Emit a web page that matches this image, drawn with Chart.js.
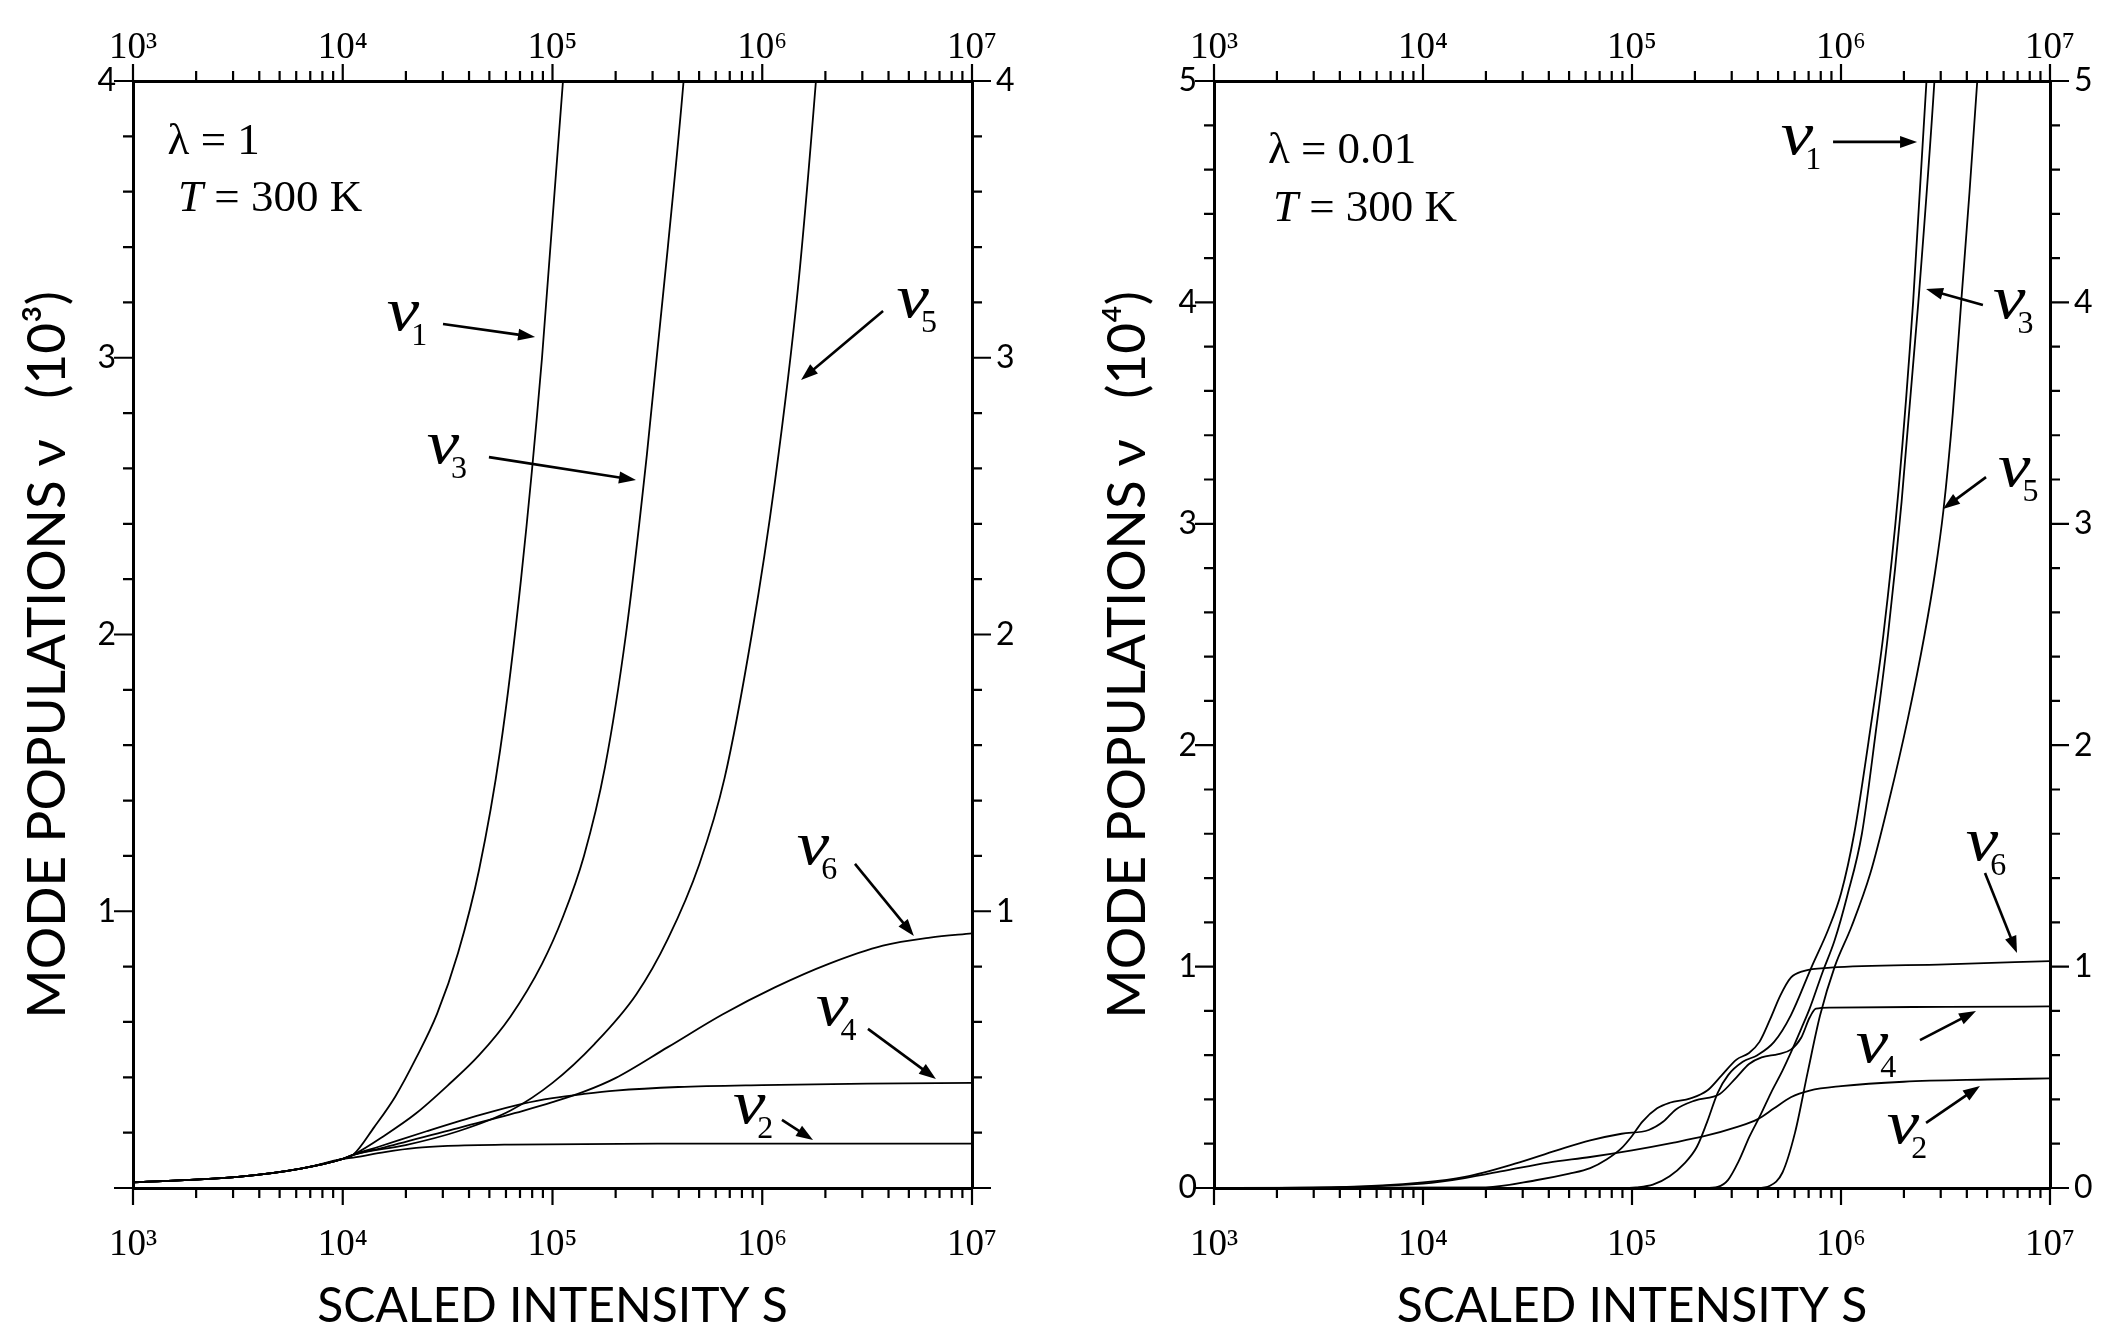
<!DOCTYPE html>
<html>
<head>
<meta charset="utf-8">
<script src="https://cdn.jsdelivr.net/npm/chart.js@4.4.1/dist/chart.umd.min.js"></script>
<style>
  html, body { margin: 0; padding: 0; background: #fff; }
  #wrap { position: relative; width: 2122px; height: 1328px; }
  canvas { position: absolute; top: 0; }
  #chartLeft { left: 0; }
  #chartRight { left: 1080px; }
</style>
</head>
<body>
<div id="wrap">
  <canvas id="chartLeft" width="1080" height="1328"></canvas>
  <canvas id="chartRight" width="1042" height="1328"></canvas>
</div>
<script>
// --- x-as (gemensam): S från 10^3 till 10^7 ---
const xDecades = [1e3, 1e4, 1e5, 1e6, 1e7];
const xDecadeLabels = ['10³', '10⁴', '10⁵', '10⁶', '10⁷'];
const xMinorSteps = [2, 3, 4, 5, 6, 7, 8, 9];

// --- vänster panel: lambda = 1, nu i enheter om 10^3 (x anges som log10 S) ---
const lamOneYMax = 4;
const lamOneYLabels = ['', '1', '2', '3', '4'];

const lamOneLogS1 = [3.0, 3.5, 3.8, 4.0, 4.05, 4.15, 4.25, 4.35, 4.45, 4.55, 4.65, 4.75, 4.85, 4.95, 5.05, 5.09];
const lamOneNu1   = [0.02, 0.04, 0.07, 0.105, 0.12, 0.22, 0.33, 0.47, 0.63, 0.85, 1.15, 1.58, 2.2, 3.0, 4.0, 4.5];

const lamOneLogS3 = [3.0, 3.5, 3.8, 4.0, 4.05, 4.2, 4.35, 4.5, 4.65, 4.8, 4.95, 5.05, 5.15, 5.25, 5.35, 5.45, 5.55, 5.625, 5.67];
const lamOneNu3   = [0.02, 0.04, 0.07, 0.105, 0.12, 0.19, 0.27, 0.37, 0.48, 0.62, 0.81, 0.98, 1.2, 1.52, 2.0, 2.65, 3.4, 4.0, 4.45];

const lamOneLogS5 = [3.0, 3.5, 3.8, 4.0, 4.05, 4.3, 4.55, 4.8, 5.0, 5.2, 5.4, 5.55, 5.7, 5.82, 5.95, 6.06, 6.17, 6.256, 6.3];
const lamOneNu5   = [0.02, 0.04, 0.07, 0.105, 0.12, 0.155, 0.205, 0.28, 0.38, 0.52, 0.7, 0.9, 1.17, 1.48, 2.0, 2.55, 3.25, 4.0, 4.45];

const lamOneLogS6 = [3.0, 3.5, 3.8, 4.0, 4.05, 4.2, 4.53, 4.86, 5.0, 5.15, 5.3, 5.55, 5.81, 6.06, 6.32, 6.575, 6.8, 7.0];
const lamOneNu6   = [0.02, 0.04, 0.07, 0.105, 0.12, 0.147, 0.213, 0.279, 0.31, 0.348, 0.397, 0.509, 0.627, 0.725, 0.811, 0.876, 0.905, 0.92];

const lamOneLogS4 = [3.0, 3.5, 3.8, 4.0, 4.05, 4.175, 4.4, 4.66, 4.86, 5.0, 5.15, 5.3, 5.6, 6.0, 6.5, 7.0];
const lamOneNu4   = [0.02, 0.04, 0.07, 0.105, 0.12, 0.15, 0.205, 0.265, 0.305, 0.325, 0.34, 0.352, 0.365, 0.372, 0.377, 0.38];

const lamOneLogS2 = [3.0, 3.5, 3.8, 4.0, 4.05, 4.2, 4.35, 4.5, 4.8, 5.5, 7.0];
const lamOneNu2   = [0.02, 0.04, 0.07, 0.105, 0.11, 0.13, 0.145, 0.152, 0.157, 0.16, 0.16];

// --- höger panel: lambda = 0.01, nu i enheter om 10^4 ---
const lamSmallYMax = 5;
const lamSmallYLabels = ['0', '1', '2', '3', '4', '5'];

const lamSmallLogS1 = [3.0, 4.95, 5.02, 5.1, 5.18, 5.25, 5.31, 5.36, 5.41, 5.46, 5.53, 5.6, 5.68, 5.76, 5.86, 5.94, 6.0, 6.063, 6.14, 6.203, 6.275, 6.345, 6.409, 6.425];
const lamSmallNu1   = [0.0, 0.0, 0.003, 0.015, 0.053, 0.11, 0.185, 0.3, 0.43, 0.51, 0.57, 0.6, 0.66, 0.78, 1.0, 1.17, 1.33, 1.6, 2.07, 2.5, 3.15, 4.0, 5.0, 5.3];

const lamSmallLogS3 = [3.0, 5.35, 5.41, 5.46, 5.51, 5.563, 5.615, 5.665, 5.72, 5.768, 5.81, 5.85, 5.91, 5.97, 6.03, 6.1, 6.165, 6.225, 6.29, 6.37, 6.447, 6.465];
const lamSmallNu3   = [0.0, 0.0, 0.005, 0.037, 0.12, 0.234, 0.33, 0.43, 0.53, 0.628, 0.72, 0.81, 0.97, 1.12, 1.32, 1.6, 2.05, 2.5, 3.1, 4.0, 5.0, 5.3];

const lamSmallLogS5 = [3.0, 5.6, 5.66, 5.72, 5.78, 5.84, 5.9, 5.97, 6.05, 6.14, 6.23, 6.32, 6.4, 6.45, 6.49, 6.535, 6.575, 6.615, 6.652, 6.675];
const lamSmallNu5   = [0.0, 0.0, 0.01, 0.07, 0.25, 0.52, 0.78, 1.0, 1.18, 1.42, 1.75, 2.12, 2.5, 2.78, 3.06, 3.5, 4.0, 4.5, 5.0, 5.3];

const lamSmallLogS6 = [3.0, 4.3, 4.54, 4.7, 4.8, 4.88, 4.95, 5.0, 5.05, 5.12, 5.18, 5.28, 5.36, 5.43, 5.5, 5.56, 5.61, 5.66, 5.71, 5.76, 5.82, 5.95, 6.5, 7.0];
const lamSmallNu6   = [0.0, 0.003, 0.035, 0.065, 0.09, 0.13, 0.18, 0.235, 0.3, 0.36, 0.385, 0.405, 0.44, 0.51, 0.58, 0.61, 0.66, 0.76, 0.87, 0.95, 0.98, 0.995, 1.01, 1.025];

const lamSmallLogS4 = [3.0, 3.6, 4.0, 4.2, 4.44, 4.64, 4.8, 4.95, 5.08, 5.15, 5.21, 5.3, 5.42, 5.5, 5.56, 5.62, 5.7, 5.76, 5.81, 5.85, 5.88, 5.95, 6.5, 7.0];
const lamSmallNu4   = [0.0, 0.004, 0.025, 0.05, 0.11, 0.17, 0.215, 0.245, 0.262, 0.3, 0.355, 0.395, 0.425, 0.5, 0.56, 0.59, 0.605, 0.625, 0.68, 0.77, 0.81, 0.815, 0.818, 0.82];

const lamSmallLogS2 = [3.0, 3.6, 4.0, 4.2, 4.4, 4.6, 4.8, 5.0, 5.2, 5.35, 5.5, 5.6, 5.68, 5.76, 5.85, 6.0, 6.3, 6.7, 7.0];
const lamSmallNu2   = [0.0, 0.004, 0.02, 0.045, 0.08, 0.115, 0.14, 0.17, 0.205, 0.235, 0.275, 0.31, 0.36, 0.41, 0.44, 0.46, 0.48, 0.49, 0.495];

// Etiketter (placering i datakoordinater: log10 S, nu)
const lamOneNotes = {
  params: [{ parts: [['λ = 1', false]], L: 3.165, v: 3.736 }, { parts: [['T', true], [' = 300 K', false]], L: 3.215, v: 3.53 }],
  labels: [
    { sub: '1', L: 4.21, v: 3.10, from: [4.478, 3.122], to: [4.917, 3.075] },
    { sub: '3', L: 4.40, v: 2.62, from: [4.697, 2.641], to: [5.398, 2.558] },
    { sub: '5', L: 6.64, v: 3.147, from: [6.576, 3.169], to: [6.185, 2.92] },
    { sub: '6', L: 6.165, v: 1.171, from: [6.442, 1.171], to: [6.723, 0.911] },
    { sub: '4', L: 6.256, v: 0.589, from: [6.504, 0.575], to: [6.828, 0.394] },
    { sub: '2', L: 5.86, v: 0.235, from: [6.094, 0.246], to: [6.242, 0.173] }
  ]
};
const lamSmallNotes = {
  params: [{ parts: [['λ = 0.01', false]], L: 3.258, v: 4.63 }, { parts: [['T', true], [' = 300 K', false]], L: 3.282, v: 4.368 }],
  labels: [
    { sub: '1', L: 5.712, v: 4.67, from: [5.962, 4.725], to: [6.364, 4.725] },
    { sub: '3', L: 6.727, v: 3.93, from: [6.679, 3.988], to: [6.407, 4.06] },
    { sub: '5', L: 6.751, v: 3.171, from: [6.694, 3.211], to: [6.488, 3.067] },
    { sub: '6', L: 6.597, v: 1.481, from: [6.689, 1.423], to: [6.842, 1.061] },
    { sub: '4', L: 6.071, v: 0.569, from: [6.378, 0.668], to: [6.646, 0.799] },
    { sub: '2', L: 6.219, v: 0.203, from: [6.407, 0.294], to: [6.665, 0.461] }
  ]
};

const SERIF = '"Liberation Serif", "DejaVu Serif", serif';
const SANS = 'Lato, "DejaVu Sans", sans-serif';

function series(logS, vals) {
    return logS.map((l, i) => ({ x: Math.pow(10, l), y: vals[i] }));
}

function xTickList() {
    const list = [];
    xDecades.forEach((d, i) => {
        list.push({ value: d, major: true });
        if (i < xDecades.length - 1) {
            xMinorSteps.forEach(m => list.push({ value: d * m, major: false }));
        }
    });
    return list;
}

function yTickList(max) {
    const list = [];
    for (let i = 0; i <= max * 5; i++) {
        list.push({ value: i / 5, major: i % 5 === 0 });
    }
    return list;
}

function xLabel(value) {
    const i = xDecades.indexOf(value);
    return i >= 0 ? xDecadeLabels[i] : '';
}

// tickmarkeringar utåt på alla fyra sidor
const edgeTicks = {
    id: 'edgeTicks',
    afterDraw(chart) {
        const ctx = chart.ctx;
        const a = chart.chartArea;
        const sx = chart.scales.x;
        const sy = chart.scales.y;
        ctx.save();
        ctx.strokeStyle = '#000';
        ctx.lineWidth = 2.2;
        ctx.beginPath();
        sx.ticks.forEach(t => {
            const px = sx.getPixelForValue(t.value);
            const len = t.major ? 17 : 10;
            ctx.moveTo(px, a.bottom);
            ctx.lineTo(px, a.bottom + len);
            ctx.moveTo(px, a.top);
            ctx.lineTo(px, a.top - len);
        });
        sy.ticks.forEach(t => {
            const py = sy.getPixelForValue(t.value);
            const len = t.major ? 19 : 10;
            ctx.moveTo(a.left, py);
            ctx.lineTo(a.left - len, py);
            ctx.moveTo(a.right, py);
            ctx.lineTo(a.right + len, py);
        });
        ctx.stroke();
        ctx.restore();
    }
};

// text och pilar inne i diagrammet
const notesPlugin = {
    id: 'notes',
    afterDraw(chart, args, opts) {
        const notes = opts.notes;
        if (!notes) return;
        const ctx = chart.ctx;
        const sx = chart.scales.x;
        const sy = chart.scales.y;
        const px = L => sx.getPixelForValue(Math.pow(10, L));
        const py = v => sy.getPixelForValue(v);
        ctx.save();
        ctx.fillStyle = '#000';
        ctx.strokeStyle = '#000';
        ctx.textBaseline = 'alphabetic';

        notes.params.forEach(p => {
            let x = px(p.L);
            const y = py(p.v);
            p.parts.forEach(([txt, italic]) => {
                ctx.font = (italic ? 'italic ' : '') + '45px ' + SERIF;
                ctx.fillText(txt, x, y);
                x += ctx.measureText(txt).width;
            });
        });

        notes.labels.forEach(n => {
            const x = px(n.L);
            const y = py(n.v);
            ctx.font = 'italic 62px ' + SERIF;
            const w = ctx.measureText('ν').width * 1.18;
            ctx.save();
            ctx.translate(x, y);
            ctx.scale(1.18, 1);
            ctx.fillText('ν', 0, 0);
            ctx.restore();
            ctx.font = '32px ' + SERIF;
            ctx.fillText(n.sub, x + w - 8, y + 15);

            const x1 = px(n.from[0]), y1 = py(n.from[1]);
            const x2 = px(n.to[0]), y2 = py(n.to[1]);
            const ang = Math.atan2(y2 - y1, x2 - x1);
            const head = 17;
            ctx.lineWidth = 2.6;
            ctx.beginPath();
            ctx.moveTo(x1, y1);
            ctx.lineTo(x2 - Math.cos(ang) * head * 0.8, y2 - Math.sin(ang) * head * 0.8);
            ctx.stroke();
            ctx.beginPath();
            ctx.moveTo(x2, y2);
            ctx.lineTo(x2 - head * Math.cos(ang) + 6 * Math.sin(ang), y2 - head * Math.sin(ang) - 6 * Math.cos(ang));
            ctx.lineTo(x2 - head * Math.cos(ang) - 6 * Math.sin(ang), y2 - head * Math.sin(ang) + 6 * Math.cos(ang));
            ctx.closePath();
            ctx.fill();
        });
        ctx.restore();
    }
};

function buildPanel(canvasId, p) {
    const border = { display: true, color: '#000', width: 3 };
    const noGrid = { display: false, drawTicks: false };
    const xTickFont = { family: SERIF, size: 37 };
    const yTickFont = { family: SANS, size: 32 };
    const yLabel = v => {
        const r = Math.round(v);
        return Math.abs(v - r) < 1e-6 ? (p.yLabels[r] || '') : '';
    };

    return new Chart(document.getElementById(canvasId), {
        type: 'line',
        data: {
            datasets: p.curves.map(c => ({
                data: c,
                borderColor: '#000',
                borderWidth: 1.8,
                pointRadius: 0,
                fill: false,
                cubicInterpolationMode: 'monotone'
            }))
        },
        options: {
            responsive: false,
            animation: false,
            events: [],
            layout: { padding: 0 },
            plugins: {
                legend: { display: false },
                tooltip: { enabled: false },
                notes: { notes: p.notes }
            },
            scales: {
                x: {
                    type: 'logarithmic', position: 'bottom', min: 1e3, max: 1e7,
                    grid: noGrid, border: border,
                    afterBuildTicks: s => { s.ticks = xTickList(); },
                    afterFit: s => { s.height = 140; },
                    ticks: { autoSkip: false, maxRotation: 0, padding: 35, color: '#000', font: xTickFont, callback: xLabel },
                    title: { display: true, text: 'SCALED INTENSITY S', color: '#000', font: { family: SANS, size: 48, lineHeight: 0.9 }, padding: { top: 0, bottom: 0 } }
                },
                x2: {
                    type: 'logarithmic', position: 'top', min: 1e3, max: 1e7,
                    grid: noGrid, border: border,
                    afterBuildTicks: s => { s.ticks = xTickList(); },
                    afterFit: s => { s.height = 81; },
                    ticks: { autoSkip: false, maxRotation: 0, padding: 11, color: '#000', font: xTickFont, callback: xLabel }
                },
                y: {
                    type: 'linear', position: 'left', min: 0, max: p.yMax,
                    grid: noGrid, border: border,
                    afterBuildTicks: s => { s.ticks = yTickList(p.yMax); },
                    afterFit: s => { s.width = p.leftWidth; },
                    ticks: { autoSkip: false, padding: p.leftPad, color: '#000', font: yTickFont, callback: yLabel },
                    title: { display: true, text: p.yTitle, color: '#000', font: { family: SANS, size: 53, lineHeight: 1.0 }, padding: { top: 21, bottom: 0 } }
                },
                y2: {
                    type: 'linear', position: 'right', min: 0, max: p.yMax,
                    grid: noGrid, border: border,
                    afterBuildTicks: s => { s.ticks = yTickList(p.yMax); },
                    afterFit: s => { s.width = p.rightWidth; },
                    ticks: { autoSkip: false, padding: 24, color: '#000', font: yTickFont, callback: yLabel }
                }
            }
        },
        plugins: [edgeTicks, notesPlugin]
    });
}

buildPanel('chartLeft', {
    yMax: lamOneYMax,
    yLabels: lamOneYLabels,
    yTitle: 'MODE POPULATIONS ν   (10³)   ',
    leftWidth: 133,
    rightWidth: 108,
    leftPad: 17,
    notes: lamOneNotes,
    curves: [
        series(lamOneLogS1, lamOneNu1),
        series(lamOneLogS3, lamOneNu3),
        series(lamOneLogS5, lamOneNu5),
        series(lamOneLogS6, lamOneNu6),
        series(lamOneLogS4, lamOneNu4),
        series(lamOneLogS2, lamOneNu2)
    ]
});

buildPanel('chartRight', {
    yMax: lamSmallYMax,
    yLabels: lamSmallYLabels,
    yTitle: 'MODE POPULATIONS ν   (10⁴)   ',
    leftWidth: 134,
    rightWidth: 72,
    leftPad: 17,
    notes: lamSmallNotes,
    curves: [
        series(lamSmallLogS1, lamSmallNu1),
        series(lamSmallLogS3, lamSmallNu3),
        series(lamSmallLogS5, lamSmallNu5),
        series(lamSmallLogS6, lamSmallNu6),
        series(lamSmallLogS4, lamSmallNu4),
        series(lamSmallLogS2, lamSmallNu2)
    ]
});
</script>
</body>
</html>
